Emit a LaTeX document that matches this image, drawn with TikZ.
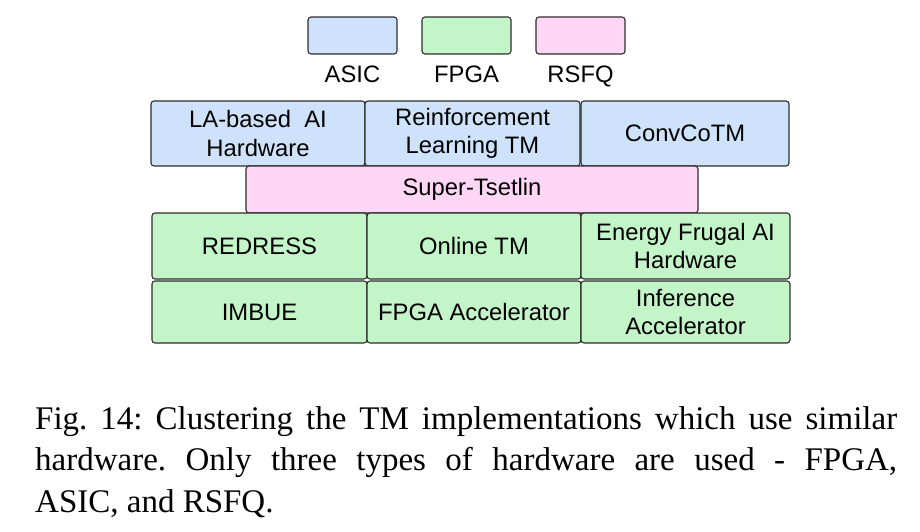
\documentclass[tikz,border=0pt]{standalone}
\usepackage{fontspec}
\setmainfont{Liberation Serif}
\newfontfamily\boxfont{Liberation Sans}
\definecolor{asicblue}{RGB}{206,227,251}
\definecolor{fpgagreen}{RGB}{196,245,200}
\definecolor{rsfqpink}{RGB}{255,214,245}
\definecolor{edgegray}{RGB}{45,45,45}
\tikzset{
  hwbox/.style={draw=edgegray, line width=1.1pt, rounded corners=3pt, inner sep=0pt,
    align=center, font=\boxfont\fontsize{23.8}{28.5}\selectfont},
  asicbox/.style={hwbox, fill=asicblue},
  fpgabox/.style={hwbox, fill=fpgagreen},
  rsfqbox/.style={hwbox, fill=rsfqpink},
  legendbox/.style={minimum width=89pt, minimum height=37pt},
  legendlabel/.style={font=\boxfont\fontsize{23.8}{28}\selectfont, inner sep=0pt, anchor=base},
}
\begin{document}
\begin{tikzpicture}[x=1pt, y=-1pt]
\useasboundingbox (0,0) rectangle (920,532);
% legend
\node[asicbox, legendbox] (lasic) at (352.5,35.5) {};
\node[fpgabox, legendbox] (lfpga) at (466.5,35.5) {};
\node[rsfqbox, legendbox] (lrsfq) at (580.5,35.5) {};
\node[legendlabel] (tasic) at (352.5,83) {ASIC};
\node[legendlabel] (tfpga) at (466.5,83) {FPGA};
\node[legendlabel] (trsfq) at (580.5,83) {RSFQ};
% ASIC row
\node[asicbox, minimum width=214pt, minimum height=65pt] (la) at (258,133.5) {LA-based\ \ AI\\Hardware};
\node[asicbox, minimum width=215pt, minimum height=65pt] (rl) at (472.5,133.5) {Reinforcement\\Learning TM};
\node[asicbox, minimum width=208pt, minimum height=65pt] (conv) at (685,133.5) {ConvCoTM};
% RSFQ
\node[rsfqbox, minimum width=452pt, minimum height=47pt] (st) at (472,189.5) {Super-Tsetlin};
% FPGA rows
\node[fpgabox, minimum width=215pt, minimum height=66pt] (redress) at (259.5,246) {REDRESS};
\node[fpgabox, minimum width=214pt, minimum height=66pt] (online) at (474,246) {Online TM};
\node[fpgabox, minimum width=209pt, minimum height=66pt] (energy) at (685.5,246) {Energy Frugal AI\\Hardware};
\node[fpgabox, minimum width=215pt, minimum height=62pt] (imbue) at (259.5,312) {IMBUE};
\node[fpgabox, minimum width=214pt, minimum height=62pt] (fpgaacc) at (474,312) {FPGA Accelerator};
\node[fpgabox, minimum width=209pt, minimum height=62pt] (infacc) at (685.5,312) {Inference\\Accelerator};
% caption
\node[anchor=north west, inner sep=0pt, text width=862pt, align=justify,
  font=\fontsize{33}{41.5}\selectfont\frenchspacing] (cap) at (35,406)
  {Fig. 14: Clustering the TM implementations which use similar\linebreak
   hardware. Only three types of hardware are used - FPGA,\linebreak
   ASIC, and RSFQ.};
\end{tikzpicture}
\end{document}
